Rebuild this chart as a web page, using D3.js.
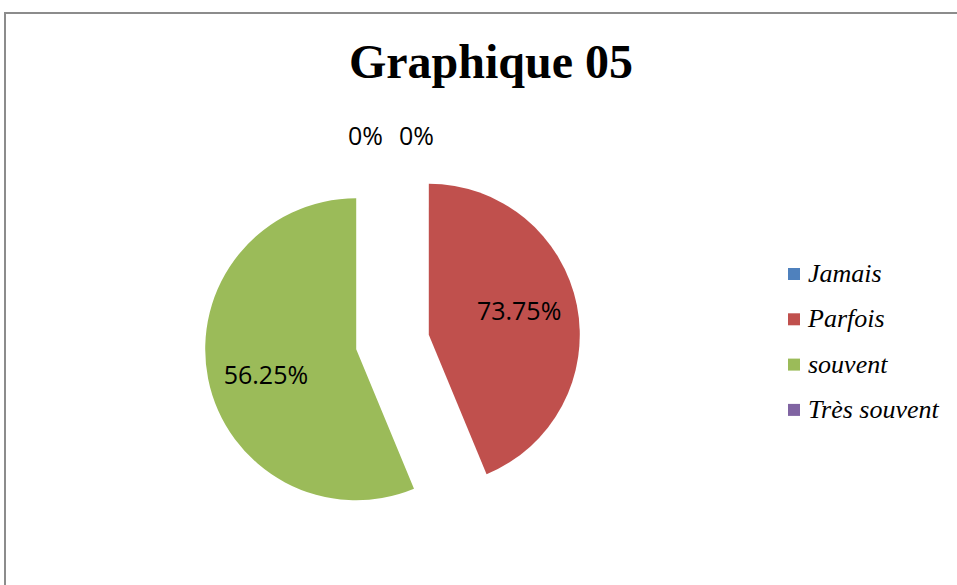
<!DOCTYPE html>
<html>
<head>
<meta charset="utf-8">
<script src="https://cdn.jsdelivr.net/npm/d3@7"></script>
<style>
  body { margin: 0; background: #fff; }
  svg { display: block; }
</style>
</head>
<body>
<div id="chart"></div>
<script>
// Data
const categories = ["Jamais", "Parfois", "souvent", "Très souvent"];
const values = [0, 43.75, 56.25, 0];               // slice sizes as drawn
const labels = ["0%", "73.75%", "56.25%", "0%"];  // labels as printed
const colors = ["#4f81bd", "#c0504d", "#9bbb59", "#8064a2"];
const title = "Graphique 05";

const width = 957, height = 585;
const cx = 392.5, cy = 342;
const radius = 151;
const explode = 37;

const svg = d3.select("#chart").append("svg")
    .attr("width", width)
    .attr("height", height);

// Frame
svg.append("rect")
    .attr("x", 5).attr("y", 13)
    .attr("width", width + 20).attr("height", height + 20)
    .attr("fill", "none")
    .attr("stroke", "#8c8c8c")
    .attr("stroke-width", 2);

// Title
svg.append("text")
    .attr("x", 491).attr("y", 78)
    .attr("text-anchor", "middle")
    .attr("font-family", "'Liberation Serif', 'Times New Roman', serif")
    .attr("font-weight", "bold")
    .attr("font-size", 48)
    .text(title);

const pie = d3.pie().sort(null).value(d => d)(values);
const arc = d3.arc().innerRadius(0).outerRadius(radius);
const labelArc = d3.arc().innerRadius(radius * 0.62).outerRadius(radius * 0.62);

// offset of each slice along its bisector
function shift(d) {
    const a = (d.startAngle + d.endAngle) / 2;
    return [Math.sin(a) * explode, -Math.cos(a) * explode];
}

const plot = svg.append("g").attr("transform", `translate(${cx},${cy})`);

plot.selectAll("path")
    .data(pie.filter(d => d.value > 0))
    .enter()
    .append("path")
        .attr("transform", d => `translate(${shift(d)})`)
        .attr("d", arc)
        .attr("fill", d => colors[d.index]);

// label angle a touch counter-clockwise of the bisector, as in the original
const tilt = -0.07;

plot.selectAll("text.lbl")
    .data(pie)
    .enter()
    .append("text")
        .attr("class", "lbl")
        .attr("text-anchor", "middle")
        .attr("dominant-baseline", "central")
        .attr("font-family", "'Open Sans', sans-serif")
        .attr("font-size", 25)
        .attr("fill", "#000")
        .attr("transform", d => {
            if (d.value > 0) {
                const s = shift(d);
                const c = labelArc.centroid({startAngle: d.startAngle + tilt, endAngle: d.endAngle + tilt});
                return `translate(${c[0] + s[0]},${c[1] + s[1]})`;
            }
            // zero slices sit at the top, side by side
            const dx = d.startAngle === 0 ? 24 : -27;
            return `translate(${dx},${-207})`;
        })
        .text((d, i) => labels[i]);

// Legend
const legend = svg.append("g").attr("transform", "translate(788,268)");
const row = legend.selectAll("g")
    .data(categories)
    .enter()
    .append("g")
        .attr("transform", (d, i) => `translate(0,${i * 45.3})`);

row.append("rect")
    .attr("width", 12).attr("height", 12)
    .attr("fill", (d, i) => colors[i]);

row.append("text")
    .attr("x", 20).attr("y", 14)
    .attr("font-family", "'Liberation Serif', 'Times New Roman', serif")
    .attr("font-style", "italic")
    .attr("font-size", 26)
    .text(d => d);
</script>
</body>
</html>
